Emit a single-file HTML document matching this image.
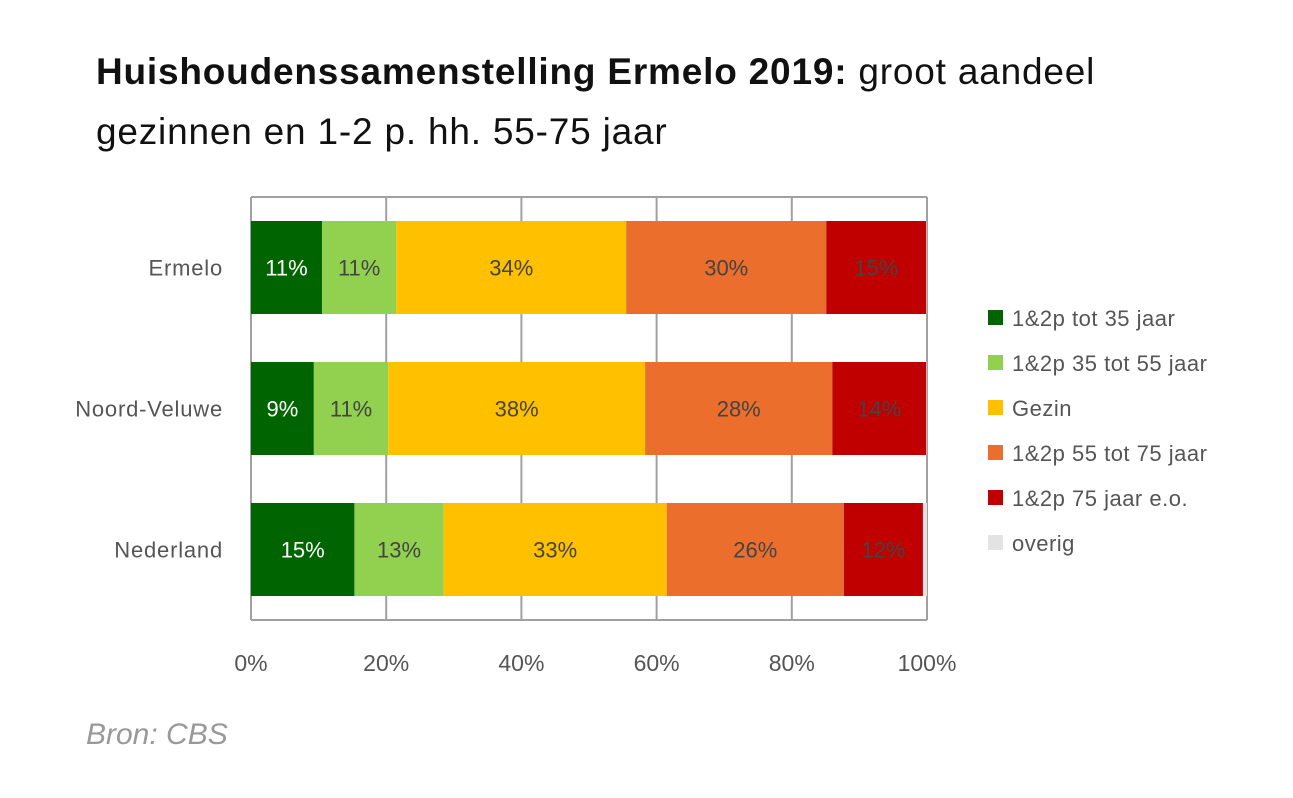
<!DOCTYPE html>
<html><head><meta charset="utf-8"><style>
body{margin:0;background:#fff;width:1293px;height:798px;overflow:hidden;font-family:"Liberation Sans",sans-serif}
</style></head><body>
<div style="position:absolute;left:96px;top:42px;font-size:37px;line-height:60px;color:#111;width:1180px;letter-spacing:0.8px;white-space:nowrap"><b>Huishoudenssamenstelling Ermelo 2019:</b> groot aandeel<br>gezinnen en 1-2 p. hh. 55-75 jaar</div>
<div style="position:absolute;left:86px;top:718px;font-size:30px;font-style:italic;color:#999">Bron: CBS</div>
<svg id="c" width="1293" height="798" style="position:absolute;left:0;top:0"></svg>
<script>
const categories=["Ermelo","Noord-Veluwe","Nederland"];
const seriesNames=["1&2p tot 35 jaar","1&2p 35 tot 55 jaar","Gezin","1&2p 55 tot 75 jaar","1&2p 75 jaar e.o.","overig"];
const s1=[10.5,9.3,15.3];
const s2=[11,11,13.2];
const s3=[34,38,33];
const s4=[29.6,27.7,26.2];
const s5=[14.8,13.9,11.7];
const s6=[0.1,0.1,0.6];
const labels1=["11%","9%","15%"];
const labels2=["11%","11%","13%"];
const labels3=["34%","38%","33%"];
const labels4=["30%","28%","26%"];
const labels5=["15%","14%","12%"];
const ticks=[0,20,40,60,80,100];
const colors=["#006400","#92d050","#ffc000","#eb6e2d","#c00000","#e3e3e3"];
const textColors=["#fff","#444","#444","#444","#444"];
const series=[s1,s2,s3,s4,s5,s6];
const lbls=[labels1,labels2,labels3,labels4,labels5];
const svg=document.getElementById('c');const NS="http://www.w3.org/2000/svg";
const X0=251,X1=927,PT=197,PB=620;
const x=v=>X0+(X1-X0)*v/100;
const bandH=(PB-PT)/categories.length;
const yc=i=>PT+bandH*(i+0.5);
function mk(t,a){const e=document.createElementNS(NS,t);for(const k in a)e.setAttribute(k,a[k]);svg.appendChild(e);return e;}
ticks.forEach(t=>{
 const g=mk('line',{x1:x(t),x2:x(t),y1:PT,y2:PB,stroke:'#a0a0a0','stroke-width':2});
 
 
 const tl=mk('text',{x:x(t),y:671,'text-anchor':'middle','font-size':23,fill:'#555'});tl.textContent=t+'%';
 
 
});
const ax=mk('line',{x1:X0,x2:X1,y1:PT,y2:PT,stroke:'#a0a0a0','stroke-width':2});


const ab=mk('line',{x1:X0,x2:X1,y1:PB,y2:PB,stroke:'#a0a0a0','stroke-width':2});


categories.forEach((c,i)=>{
 let acc=0;const h=93,y=yc(i)-h/2;
 series.forEach((s,k)=>{
  const r=mk('rect',{x:x(acc),y:y,width:x(acc+s[i])-x(acc),height:h,fill:colors[k]});
  
  
  if(k<5){const t=mk('text',{x:(x(acc)+x(acc+s[i]))/2,y:yc(i)+8,'text-anchor':'middle','font-size':22,fill:textColors[k]});t.textContent=lbls[k][i];
   
   }
  acc+=s[i];
 });
 const cl=mk('text',{x:223,y:yc(i)+8,'text-anchor':'end','font-size':22,fill:'#555','letter-spacing':0.8});cl.textContent=c;
 
 
});
seriesNames.forEach((n,k)=>{
 const ly=319+k*45;
 const r=mk('rect',{x:988,y:ly-9,width:15,height:15,fill:colors[k]});
 
 
 const t=mk('text',{x:1012,y:ly+7,'font-size':22,fill:'#555','letter-spacing':0.5});t.textContent=n;
 
 
});
</script>
</body></html>
